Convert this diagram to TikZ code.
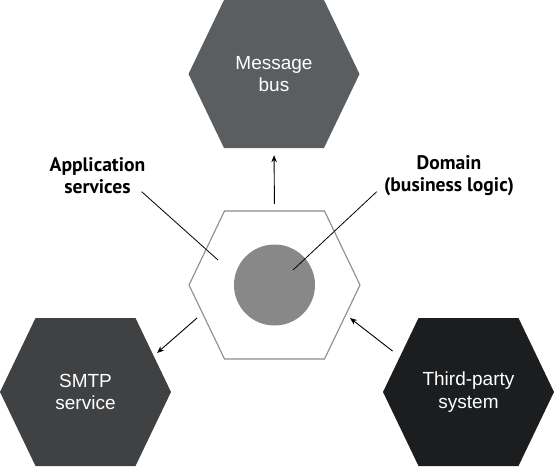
\documentclass[tikz,border=0pt]{standalone}
\usepackage{fontspec}
\setmainfont{Liberation Sans}
\newfontfamily\labelfont{PT Sans}
\usetikzlibrary{calc,arrows.meta,backgrounds}
\definecolor{busgray}{HTML}{5B5E61}
\definecolor{smtpgray}{HTML}{404143}
\definecolor{thirdgray}{HTML}{1B1D1F}
\definecolor{edgegray}{HTML}{8C8C8C}
\definecolor{coregray}{HTML}{888888}
\newcommand\hexshape[2]{\path[#2] ($(#1)+(-85.5,0)$) -- ($(#1)+(-50,-74)$) -- ($(#1)+(50,-74)$) -- ($(#1)+(85.5,0)$) -- ($(#1)+(50,74)$) -- ($(#1)+(-50,74)$) -- cycle;}
\tikzset{
  hexnode/.style={minimum width=171pt, minimum height=148pt, inner sep=0pt, align=center, text=white, font=\fontsize{19}{22.5}\selectfont},
  calloutlabel/.style={align=center, inner sep=0pt, font=\labelfont\bfseries\fontsize{19.6}{22}\selectfont},
  flowarrow/.style={line width=0.9pt, -{Stealth[length=7pt,width=5.5pt]}},
  leader/.style={line width=0.8pt}
}
\begin{document}
\begin{tikzpicture}[x=1pt,y=-1pt]
\useasboundingbox (0,0) rectangle (555,467);
\node[hexnode] (bus) at (274,74) {Message\\bus};
\node[hexnode] (ctr) at (274.5,285) {};
\node[hexnode] (smtp) at (85.5,392) {SMTP\\service};
\node[hexnode] (third) at (468.5,392) {Third-party\\system};
\begin{pgfonlayer}{background}
\hexshape{bus}{fill=busgray}
\hexshape{smtp}{fill=smtpgray}
\hexshape{third}{fill=thirdgray}
\hexshape{ctr}{draw=edgegray, line width=1.1pt, fill=white}
\end{pgfonlayer}
\node[circle, fill=coregray, minimum size=81pt, inner sep=0pt] (core) at (ctr) {};
\node[calloutlabel] (applbl) at (97.5,176) {Application\\services};
\node[calloutlabel] (domlbl) at (449,176) {Domain\\(business logic)};
\coordinate (append) at ($(ctr)+(-56.5,-25)$);
\coordinate (appstart) at ($(applbl)+(44.2,15.7)$);
\coordinate (domend) at ($(core)+(18.5,-15)$);
\coordinate (domstart) at ($(domlbl)+(-72.3,15.7)$);
\draw[leader] (appstart) -- (append);
\draw[leader] (domstart) -- (domend);
\draw[flowarrow, shorten <=7pt, shorten >=7pt] (ctr.north) -- (bus.south);
\coordinate (smtpout) at ($(ctr)+(-77.5,33)$);
\coordinate (smtpin) at ($(smtp)+(71.5,-39)$);
\draw[flowarrow] (smtpout) -- (smtpin);
\coordinate (thirdout) at ($(third)+(-76,-41)$);
\coordinate (ctrin) at ($(ctr)+(75.5,33)$);
\draw[flowarrow] (thirdout) -- (ctrin);
\end{tikzpicture}
\end{document}
